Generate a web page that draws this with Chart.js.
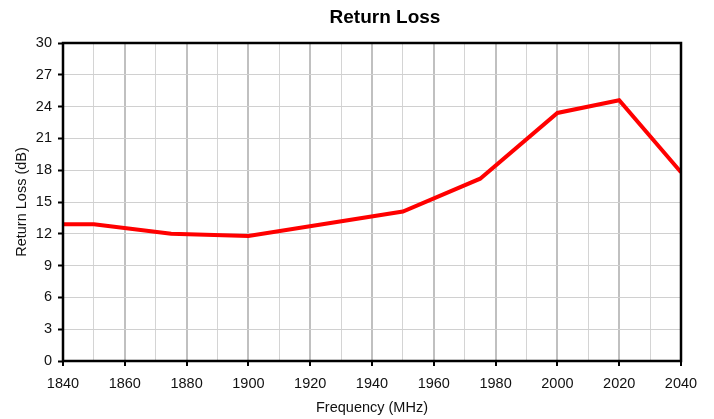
<!DOCTYPE html>
<html>
<head>
<meta charset="utf-8">
<script src="https://cdn.jsdelivr.net/npm/chart.js@4.4.1/dist/chart.umd.min.js"></script>
<style>
  html, body { margin: 0; padding: 0; background: #fff; }
  #wrap { width: 714px; height: 419px; position: relative; }
</style>
</head>
<body>
<div id="wrap"><canvas id="c" width="714" height="419"></canvas></div>
<script>
const chartTitle = "Return Loss";
const xAxisTitle = "Frequency (MHz)";
const yAxisTitle = "Return Loss (dB)";
const frequencies = [1840, 1850, 1875, 1900, 1950, 1975, 2000, 2020, 2040];
const returnLoss = [12.9, 12.9, 12.0, 11.8, 14.1, 17.2, 23.4, 24.6, 17.8];
const xMin = 1840, xMax = 2040, xMinorStep = 10, xMajorStep = 20;
const yMin = 0, yMax = 30, yStep = 3;

const FONT = "'Liberation Sans', Arial, sans-serif";

const framePlugin = {
  id: 'frame',
  afterDatasetsDraw(chart) {
    const { ctx, chartArea: a } = chart;
    ctx.save();
    ctx.strokeStyle = '#000';
    ctx.lineWidth = 2.5;
    ctx.strokeRect(a.left, a.top, a.right - a.left, a.bottom - a.top);
    ctx.restore();
  },
  afterDraw(chart) {
    const { ctx, chartArea: a } = chart;
    ctx.save();
    ctx.font = "bold 19px " + FONT;
    ctx.fillStyle = '#000';
    ctx.textAlign = 'center';
    ctx.textBaseline = 'middle';
    ctx.fillText(chartTitle, (a.left + a.right) / 2 + 13, 18);
    ctx.restore();
  }
};

const isMajor = (v) => Math.abs(v % xMajorStep) < 1e-6;

new Chart(document.getElementById('c'), {
  type: 'line',
  data: {
    datasets: [{
      data: frequencies.map((f, i) => ({ x: f, y: returnLoss[i] })),
      borderColor: '#ff0000',
      borderWidth: 4,
      pointRadius: 0,
      tension: 0,
      fill: false
    }]
  },
  options: {
    responsive: false,
    animation: false,
    devicePixelRatio: 1,
    layout: { padding: { top: 43, right: 33, left: 0, bottom: 0 } },
    plugins: { legend: { display: false }, title: { display: false }, tooltip: { enabled: false } },
    scales: {
      x: {
        type: 'linear',
        min: xMin, max: xMax,
        afterFit(s) { s.height = 58; },
        ticks: {
          stepSize: xMinorStep,
          autoSkip: false,
          maxRotation: 0,
          padding: 9,
          color: '#111',
          font: { family: FONT, size: 14.5 },
          callback: (v) => isMajor(v) ? String(v) : ''
        },
        grid: {
          color: (c) => isMajor(c.tick.value) ? '#c0c0c0' : '#d4d4d4',
          lineWidth: (c) => isMajor(c.tick.value) ? 2 : 1,
          tickColor: (c) => isMajor(c.tick.value) ? '#000' : 'rgba(0,0,0,0)',
          tickWidth: 2,
          tickLength: 5
        },
        border: { display: false },
        title: {
          display: true, text: xAxisTitle, color: '#111',
          font: { family: FONT, size: 14.5 },
          padding: { top: 0, bottom: 2 }
        }
      },
      y: {
        min: yMin, max: yMax,
        afterFit(s) { s.width = 63; },
        ticks: {
          stepSize: yStep,
          padding: 6,
          color: '#111',
          font: { family: FONT, size: 14.5 }
        },
        grid: {
          color: '#d0d0d0',
          lineWidth: 1,
          tickColor: '#000',
          tickWidth: 2,
          tickLength: 5
        },
        border: { display: false },
        title: {
          display: true, text: yAxisTitle, color: '#111',
          font: { family: FONT, size: 14.5 },
          padding: { top: 13, bottom: 0 }
        }
      }
    }
  },
  plugins: [framePlugin]
});
</script>
</body>
</html>
